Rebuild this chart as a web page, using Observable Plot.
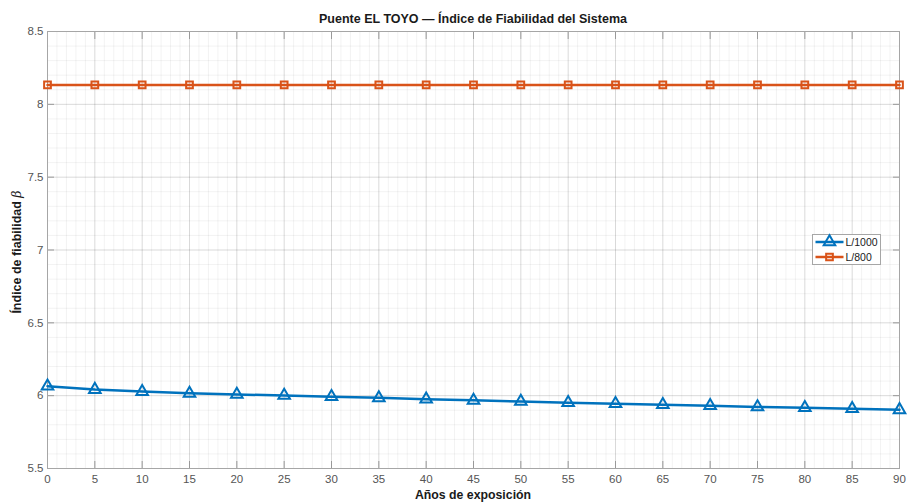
<!DOCTYPE html>
<html>
<head>
<meta charset="utf-8">
<script src="https://cdn.jsdelivr.net/npm/d3@7"></script>
<script src="https://cdn.jsdelivr.net/npm/@observablehq/plot@0.6"></script>
<style>
  html, body { margin: 0; padding: 0; background: #fff; }
  #chart { width: 912px; height: 502px; }
</style>
</head>
<body>
<div id="chart"></div>
<script>
const years = [0, 5, 10, 15, 20, 25, 30, 35, 40, 45, 50, 55, 60, 65, 70, 75, 80, 85, 90];
const betaL1000 = [6.065, 6.042, 6.028, 6.016, 6.008, 6.001, 5.993, 5.985, 5.976, 5.968, 5.960, 5.952, 5.945, 5.938, 5.931, 5.923, 5.917, 5.911, 5.903];
const betaL800 = [8.133, 8.133, 8.133, 8.133, 8.133, 8.133, 8.133, 8.133, 8.133, 8.133, 8.133, 8.133, 8.133, 8.133, 8.133, 8.133, 8.133, 8.133, 8.133];
const seriesNames = ["L/1000", "L/800"];
const seriesColors = ["#0072BD", "#D95319"];
const xTicks = [0, 5, 10, 15, 20, 25, 30, 35, 40, 45, 50, 55, 60, 65, 70, 75, 80, 85, 90];
const yTicks = [5.5, 6, 6.5, 7, 7.5, 8, 8.5];
const xMinor = d3.range(0, 91, 1);
const yMinor = d3.range(55, 86, 1).map(v => v / 10);
const titleText = "Puente EL TOYO — Índice de Fiabilidad del Sistema";
const xLabel = "Años de exposición";
const yLabel = "Índice de fiabilidad ";

const rows = [];
years.forEach((yr, i) => {
  rows.push({year: yr, beta: betaL1000[i], serie: seriesNames[0]});
  rows.push({year: yr, beta: betaL800[i], serie: seriesNames[1]});
});

const W = 912, H = 502;
const mL = 47, mR = 13, mT = 31, mB = 34;
const axisGray = "#a6a6a6";
const tickText = "#555";

const chart = Plot.plot({
  width: W, height: H,
  marginLeft: mL, marginRight: mR, marginTop: mT, marginBottom: mB,
  style: {fontFamily: "'Liberation Sans', Arial, sans-serif", fontSize: "11.5px", background: "#fff", overflow: "visible"},
  x: {domain: [0, 90]},
  y: {domain: [5.5, 8.5]},
  color: {domain: seriesNames, range: seriesColors},
  marks: [
    Plot.gridX(xMinor, {stroke: "#000", strokeOpacity: 0.05}),
    Plot.gridY(yMinor, {stroke: "#000", strokeOpacity: 0.05}),
    Plot.gridX(xTicks, {stroke: "#000", strokeOpacity: 0.1}),
    Plot.gridY(yTicks, {stroke: "#000", strokeOpacity: 0.1}),
    Plot.axisX(xTicks, {anchor: "bottom", tickSize: 0, tickPadding: 6, fill: tickText, label: null, tickFormat: d => String(d), fontSize: 11.5}),
    Plot.axisY(yTicks, {anchor: "left", tickSize: 0, tickPadding: 4, fill: tickText, label: null, tickFormat: d => String(d), fontSize: 11.5}),
    Plot.axisX(xTicks, {anchor: "bottom", tickSize: -7, stroke: "#999", tickFormat: () => "", label: null}),
    Plot.axisX(xTicks, {anchor: "top", tickSize: -7, stroke: "#999", tickFormat: () => "", label: null}),
    Plot.axisY(yTicks, {anchor: "left", tickSize: -7, stroke: "#999", tickFormat: () => "", label: null}),
    Plot.axisY(yTicks, {anchor: "right", tickSize: -7, stroke: "#999", tickFormat: () => "", label: null}),
    Plot.frame({stroke: axisGray}),
    Plot.line(rows, {x: "year", y: "beta", z: "serie", stroke: "serie", strokeWidth: 2.5}),
    Plot.dot(rows.filter(d => d.serie === seriesNames[0]), {x: "year", y: "beta", symbol: "triangle", r: 4.3, stroke: seriesColors[0], strokeWidth: 2, fill: "none"}),
    Plot.dot(rows.filter(d => d.serie === seriesNames[1]), {x: "year", y: "beta", symbol: "square", r: 3.8, stroke: seriesColors[1], strokeWidth: 2, fill: "none"})
  ]
});

document.getElementById("chart").appendChild(chart);

const svg = d3.select(chart);
const cx = mL + (W - mL - mR) / 2;
svg.append("text")
  .attr("x", cx).attr("y", 23)
  .attr("text-anchor", "middle")
  .attr("font-weight", "bold").attr("font-size", 12.5).attr("fill", "#1a1a1a")
  .text(titleText);
svg.append("text")
  .attr("x", cx).attr("y", 499)
  .attr("text-anchor", "middle")
  .attr("font-weight", "bold").attr("font-size", 12.3).attr("fill", "#1a1a1a")
  .text(xLabel);
const yl = svg.append("text")
  .attr("transform", `translate(21, 252) rotate(-90)`)
  .attr("text-anchor", "middle")
  .attr("font-weight", "bold").attr("font-size", 12.5).attr("fill", "#1a1a1a");
yl.append("tspan").text(yLabel);
yl.append("tspan").attr("font-style", "italic").attr("font-weight", "normal").attr("font-family", "'DejaVu Serif', serif").text("β");

// legend
const lg = svg.append("g").attr("transform", "translate(812.5, 234.5)");
lg.append("rect").attr("width", 68).attr("height", 30).attr("fill", "#fff").attr("stroke", "#a6a6a6").attr("stroke-width", 1);
const sym = [d3.symbolTriangle, d3.symbolSquare];
seriesNames.forEach((name, i) => {
  const yy = 7.5 + i * 15;
  lg.append("line").attr("x1", 3).attr("x2", 31).attr("y1", yy).attr("y2", yy)
    .attr("stroke", seriesColors[i]).attr("stroke-width", 2.5);
  lg.append("path").attr("d", d3.symbol(sym[i], i === 0 ? 58 : 45)())
    .attr("transform", `translate(17, ${yy})`)
    .attr("fill", "none").attr("stroke", seriesColors[i]).attr("stroke-width", 2);
  lg.append("text").attr("x", 33).attr("y", yy).attr("dy", "0.35em")
    .attr("text-anchor", "start")
    .attr("font-size", 10.5).attr("fill", "#1a1a1a").text(name);
});
</script>
</body>
</html>
